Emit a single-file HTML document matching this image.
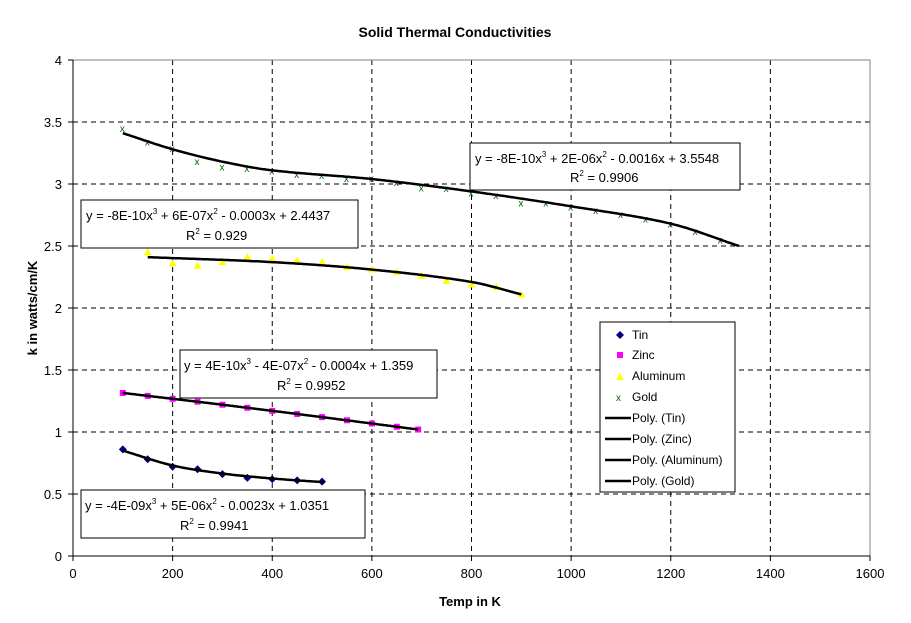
<!DOCTYPE html>
<html><head><meta charset="utf-8"><style>
body{margin:0;background:#fff;}
svg{display:block;font-family:"Liberation Sans",Arial,sans-serif;}
</style></head><body>
<svg id="s" width="911" height="623" xmlns="http://www.w3.org/2000/svg">
<rect width="911" height="623" fill="#fff"/>
<text x="455" y="37" font-size="14" font-weight="bold" text-anchor="middle">Solid Thermal Conductivities</text>
<g id="grid" stroke="#000" stroke-dasharray="5,4" stroke-width="1"></g>
<rect x="73" y="60" width="797" height="496" fill="none" stroke="#808080"/>
<line x1="73" y1="60" x2="73" y2="556" stroke="#000"/>
<line x1="73" y1="556" x2="870" y2="556" stroke="#000"/>
<g id="ticks" font-size="13"></g>
<text x="470" y="606" font-size="13" font-weight="bold" text-anchor="middle">Temp in K</text>
<text transform="translate(37,308) rotate(-90)" font-size="13" font-weight="bold" text-anchor="middle">k in watts/cm/K</text>
<g id="pts"></g>
<g id="curves" fill="none" stroke="#000" stroke-width="2.5"></g>
<g font-size="13">
<rect x="470" y="143" width="270" height="47" fill="#fff" stroke="#000"/>
<text x="475" y="163">y = -8E-10x<tspan font-size="8" dy="-6">3</tspan><tspan dy="6"> + 2E-06x</tspan><tspan font-size="8" dy="-6">2</tspan><tspan dy="6"> - 0.0016x + 3.5548</tspan></text>
<text x="570" y="182">R<tspan font-size="8" dy="-6">2</tspan><tspan dy="6"> = 0.9906</tspan></text>
<rect x="81" y="200" width="277" height="48" fill="#fff" stroke="#000"/>
<text x="86" y="220">y = -8E-10x<tspan font-size="8" dy="-6">3</tspan><tspan dy="6"> + 6E-07x</tspan><tspan font-size="8" dy="-6">2</tspan><tspan dy="6"> - 0.0003x + 2.4437</tspan></text>
<text x="186" y="240">R<tspan font-size="8" dy="-6">2</tspan><tspan dy="6"> = 0.929</tspan></text>
<rect x="180" y="350" width="257" height="48" fill="#fff" stroke="#000"/>
<text x="184" y="370">y = 4E-10x<tspan font-size="8" dy="-6">3</tspan><tspan dy="6"> - 4E-07x</tspan><tspan font-size="8" dy="-6">2</tspan><tspan dy="6"> - 0.0004x + 1.359</tspan></text>
<text x="277" y="390">R<tspan font-size="8" dy="-6">2</tspan><tspan dy="6"> = 0.9952</tspan></text>
<rect x="81" y="490" width="284" height="48" fill="#fff" stroke="#000"/>
<text x="85" y="510">y = -4E-09x<tspan font-size="8" dy="-6">3</tspan><tspan dy="6"> + 5E-06x</tspan><tspan font-size="8" dy="-6">2</tspan><tspan dy="6"> - 0.0023x + 1.0351</tspan></text>
<text x="180" y="530">R<tspan font-size="8" dy="-6">2</tspan><tspan dy="6"> = 0.9941</tspan></text>
</g>
<g font-size="12">
<rect x="600" y="322" width="135" height="170" fill="#fff" stroke="#000"/>
<path d="M620,331 l4,4 l-4,4 l-4,-4z" fill="#000080"/><text x="632" y="339">Tin</text>
<rect x="617" y="352" width="6" height="6" fill="#ff00ff"/><text x="632" y="359">Zinc</text>
<path d="M620,373 l4,7 h-8z" fill="#ffff00"/><text x="632" y="380">Aluminum</text>
<text x="616" y="401" font-size="10" fill="#006400">x</text><text x="632" y="401">Gold</text>
<g stroke="#000" stroke-width="2.5"><line x1="605" y1="418" x2="631" y2="418"/><line x1="605" y1="439" x2="631" y2="439"/><line x1="605" y1="460" x2="631" y2="460"/><line x1="605" y1="481" x2="631" y2="481"/></g>
<text x="632" y="422">Poly. (Tin)</text><text x="632" y="443">Poly. (Zinc)</text><text x="632" y="464">Poly. (Aluminum)</text><text x="632" y="485">Poly. (Gold)</text>
</g>
</svg>
<script>
const NS="http://www.w3.org/2000/svg";
const X=v=>73+v*797/1600, Y=k=>556-k*124;
function el(p,t,a,txt){const e=document.createElementNS(NS,t);for(const k in a)e.setAttribute(k,a[k]);if(txt!=null)e.textContent=txt;document.getElementById(p).appendChild(e);return e;}
for(let i=1;i<8;i++){el("grid","line",{x1:X(i*200),y1:60,x2:X(i*200),y2:556});}
for(let i=1;i<8;i++){el("grid","line",{x1:73,y1:Y(i*0.5),x2:870,y2:Y(i*0.5)});}
for(let i=0;i<=8;i++){el("ticks","line",{x1:X(i*200),y1:556,x2:X(i*200),y2:561,stroke:"#000"});el("ticks","text",{x:X(i*200),y:578,"text-anchor":"middle"},String(i*200));}
for(let i=0;i<=8;i++){const k=i*0.5;el("ticks","line",{x1:68,y1:Y(k),x2:73,y2:Y(k),stroke:"#000"});el("ticks","text",{x:62,y:Y(k)+5,"text-anchor":"end"},String(k));}
function interp(kn,x){for(let i=0;i<kn.length-1;i++){const a=kn[i],b=kn[i+1];if(x<=b[0]){const p0=kn[Math.max(0,i-1)],p3=kn[Math.min(kn.length-1,i+2)];const t=(x-a[0])/(b[0]-a[0]);const m1=(b[1]-p0[1])/(b[0]-p0[0])*(b[0]-a[0]),m2=(p3[1]-a[1])/(p3[0]-a[0])*(b[0]-a[0]);const t2=t*t,t3=t2*t;return (2*t3-3*t2+1)*a[1]+(t3-2*t2+t)*m1+(-2*t3+3*t2)*b[1]+(t3-t2)*m2;}}return kn[kn.length-1][1];}
const GK=[[100,3.41],[200,3.28],[300,3.18],[400,3.11],[600,3.04],[800,2.94],[1000,2.82],[1200,2.68],[1337,2.5]];
const TK=[[100,0.85],[200,0.73],[300,0.665],[400,0.625],[505,0.595]];
const AK=[[150,2.41],[400,2.37],[600,2.31],[800,2.21],[900,2.11]];
const ZK=[[100,1.315],[300,1.22],[500,1.12],[693,1.02]];
const al=[2.45,2.36,2.34,2.37,2.41,2.4,2.38,2.37,2.33,2.31,2.29,2.26,2.22,2.19,2.17,2.11];
al.forEach((k,i)=>{const x=X(150+50*i),y=Y(k);el("pts","path",{d:`M${x},${y-4} l4,7 h-8z`,fill:"#ffff00"});});
const goff=[0.04,0,0.01,-0.04,-0.04,-0.01,0,-0.01,0,-0.01,0.01,0,-0.02,0,-0.01,0,-0.03,0,0,0,0,0,0,0,0];
for(let i=0;i<25;i++){let xv=100+50*i;if(xv>1300)xv=1337;const k=interp(GK,xv)+goff[i];el("pts","text",{x:X(xv)-3,y:Y(k)+4,"font-size":"10",fill:"#006400"},"x");}
for(let xv=100;xv<=700;xv+=50){const xx=xv>690?693:xv;const y=Y(interp(ZK,xx));el("pts","rect",{x:X(xx)-3,y:y-3,width:6,height:6,fill:"#ff00ff"});}
const tn=[0.86,0.78,0.72,0.70,0.66,0.63,0.62,0.61,0.60];
tn.forEach((k,i)=>{const x=X(100+50*i),y=Y(k);el("pts","path",{d:`M${x},${y-4} l4,4 l-4,4 l-4,-4z`,fill:"#000080"});});
for(const kn of [GK,TK,AK,ZK]){let d="";const a=kn[0][0],b=kn[kn.length-1][0];for(let x=a;x<=b;x+=4){d+=(d?"L":"M")+X(x).toFixed(1)+","+Y(interp(kn,x)).toFixed(1);}d+="L"+X(b).toFixed(1)+","+Y(kn[kn.length-1][1]).toFixed(1);el("curves","path",{d});}
</script>
</body></html>
